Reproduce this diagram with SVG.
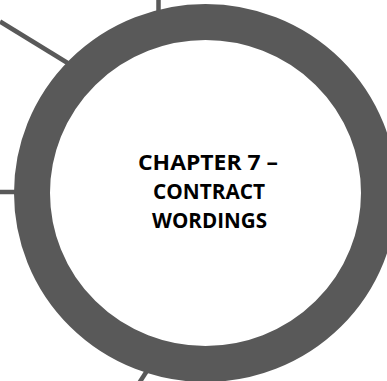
<svg xmlns="http://www.w3.org/2000/svg" width="387" height="381" viewBox="0 0 387 381">
  <style>
    .conn { stroke: #595959; stroke-width: 4.5; fill: none; }
    .ring { stroke: #595959; stroke-width: 36; fill: #ffffff; }
    .label { font-family: "Open Sans", "Liberation Sans", sans-serif; font-weight: 700; font-size: 20.5px; fill: #000000; text-anchor: middle; }
  </style>
  <rect width="387" height="381" fill="#ffffff"/>
  <g id="connectors">
    <line class="conn" x1="158.5" y1="0" x2="158.5" y2="20"/>
    <line class="conn" x1="0" y1="21.5" x2="75" y2="67.5"/>
    <line class="conn" x1="0" y1="192" x2="25" y2="192"/>
    <line class="conn" x1="138.5" y1="384" x2="152" y2="363"/>
  </g>
  <g id="chapter7">
    <ellipse class="ring" cx="205.5" cy="193" rx="173.5" ry="171"/>
    <text class="label" x="208" y="169.5" textLength="140" lengthAdjust="spacingAndGlyphs">CHAPTER 7 –</text>
    <text class="label" x="209" y="198.5" textLength="112" lengthAdjust="spacingAndGlyphs">CONTRACT</text>
    <text class="label" x="209.5" y="227.5" textLength="115" lengthAdjust="spacingAndGlyphs">WORDINGS</text>
  </g>
</svg>
